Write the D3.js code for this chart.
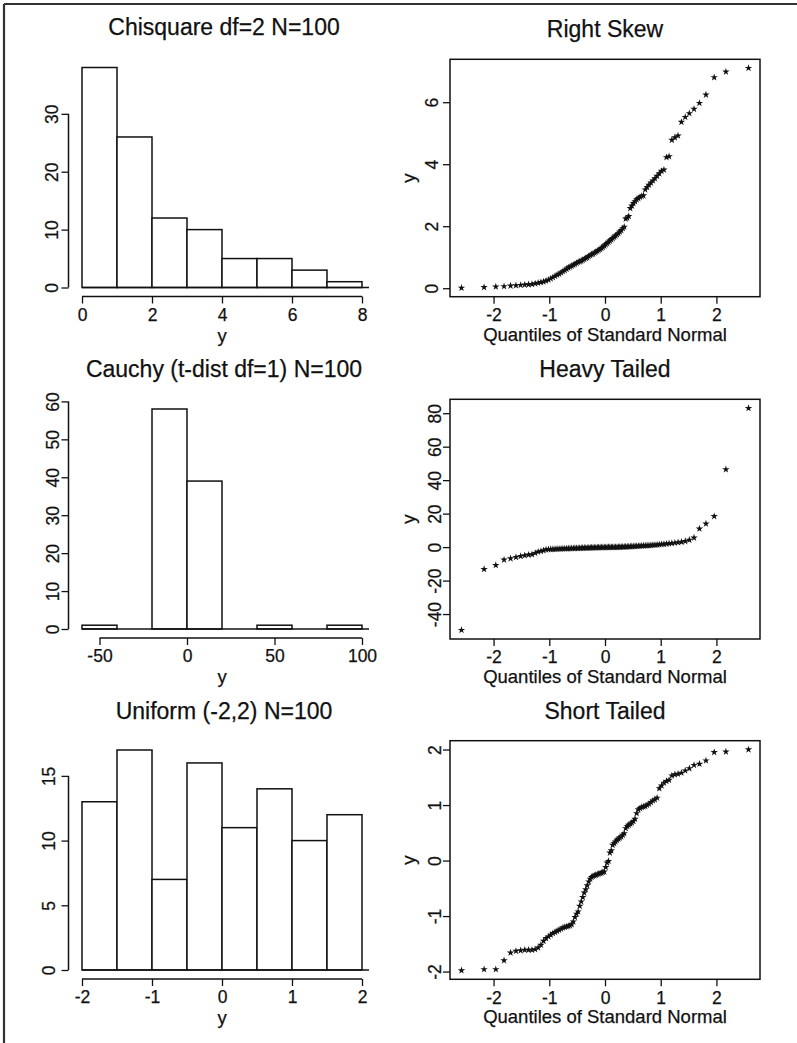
<!DOCTYPE html>
<html>
<head>
<meta charset="utf-8">
<script src="https://cdn.jsdelivr.net/npm/d3@7"></script>
<style>
  body { margin: 0; background: #fff; }
  svg { display: block; font-family: "Liberation Sans", Arial, Helvetica, sans-serif; }
  text { stroke: #111; stroke-width: 0.25; }
</style>
</head>
<body>
<script>
// quantiles of the standard normal for N=100 (x of every qq plot)
var normQuantiles = [-2.576,-2.170,-1.960,-1.812,-1.695,-1.598,-1.514,-1.440,-1.372,-1.311,-1.254,-1.200,-1.150,-1.103,-1.058,-1.015,-0.974,-0.935,-0.896,-0.860,-0.824,-0.789,-0.755,-0.722,-0.690,-0.659,-0.628,-0.598,-0.568,-0.539,-0.510,-0.482,-0.454,-0.426,-0.399,-0.372,-0.345,-0.319,-0.292,-0.266,-0.240,-0.215,-0.189,-0.164,-0.138,-0.113,-0.088,-0.063,-0.038,-0.013,
  0.013,0.038,0.063,0.088,0.113,0.138,0.164,0.189,0.215,0.240,0.266,0.292,0.319,0.345,0.372,0.399,0.426,0.454,0.482,0.510,0.539,0.568,0.598,0.628,0.659,0.690,0.722,0.755,0.789,0.824,0.860,0.896,0.935,0.974,1.015,1.058,1.103,1.150,1.200,1.254,1.311,1.372,1.440,1.514,1.598,1.695,1.812,1.960,2.170,2.576];

// sorted samples
var skewY = [0.01,0.03,0.05,0.06,0.08,0.09,0.10,0.11,0.12,0.13,0.15,0.17,0.19,0.21,0.24,0.27,0.31,0.35,0.39,0.43,
  0.46,0.50,0.54,0.58,0.62,0.66,0.69,0.72,0.75,0.78,0.81,0.84,0.86,0.88,0.91,0.94,0.97,0.99,1.03,1.06,
  1.09,1.11,1.14,1.17,1.20,1.23,1.26,1.29,1.33,1.37,1.41,1.45,1.49,1.53,1.57,1.61,1.65,1.69,1.73,1.77,
  1.82,1.87,1.93,1.98,2.24,2.27,2.32,2.58,2.66,2.74,2.80,2.86,2.90,2.94,2.97,2.99,3.18,3.26,3.33,3.40,
  3.47,3.54,3.62,3.70,3.78,3.82,4.22,4.25,4.78,4.86,4.92,5.36,5.52,5.64,5.78,5.97,6.24,6.80,6.98,7.10];

var heavyY = [-49.6,-13.2,-10.8,-7.6,-6.8,-6.0,-5.4,-5.0,-4.6,-4.4,-3.6,-2.8,-2.4,-2.0,-1.45,-1.35,-1.28,-1.22,-1.16,-1.10,
  -1.05,-1.00,-0.95,-0.91,-0.87,-0.83,-0.79,-0.75,-0.72,-0.69,-0.65,-0.62,-0.59,-0.56,-0.53,-0.50,-0.47,-0.44,-0.41,-0.38,
  -0.35,-0.33,-0.30,-0.28,-0.25,-0.23,-0.20,-0.18,-0.16,-0.14,-0.12,-0.10,-0.09,-0.07,-0.06,-0.05,-0.04,-0.03,-0.01,0.02,
  0.06,0.10,0.14,0.18,0.22,0.26,0.31,0.36,0.41,0.46,0.51,0.57,0.63,0.69,0.75,0.82,0.89,0.96,1.04,1.12,
  1.21,1.31,1.42,1.54,1.67,1.82,1.98,2.15,2.34,2.55,2.80,3.05,3.50,4.30,5.60,11.0,14.0,18.4,46.4,83.0];

var shortY = [-1.98,-1.96,-1.96,-1.80,-1.66,-1.63,-1.62,-1.61,-1.61,-1.61,-1.60,-1.57,-1.52,-1.45,-1.40,-1.37,-1.34,-1.31,-1.29,-1.27,
  -1.25,-1.23,-1.21,-1.20,-1.19,-1.18,-1.17,-1.15,-1.10,-1.02,-0.96,-0.92,-0.82,-0.74,-0.66,-0.58,-0.52,-0.45,-0.38,-0.33,
  -0.30,-0.28,-0.27,-0.26,-0.25,-0.24,-0.23,-0.22,-0.21,-0.20,-0.12,-0.04,-0.01,0.14,0.18,0.28,0.31,0.34,0.37,0.39,
  0.41,0.43,0.46,0.49,0.58,0.62,0.64,0.66,0.68,0.71,0.75,0.85,0.92,0.94,0.96,0.97,0.98,1.00,1.02,1.05,
  1.08,1.10,1.13,1.30,1.35,1.40,1.43,1.45,1.53,1.55,1.56,1.58,1.62,1.66,1.72,1.74,1.80,1.95,1.96,2.00];

// histogram bins and counts
var chisqEdges = [0,1,2,3,4,5,6,7,8];
var chisqCounts = [38,26,12,10,5,5,3,1];
var cauchyEdges = [-60,-40,-20,0,20,40,60,80,100];
var cauchyCounts = [1,0,58,39,0,1,0,1];
var unifEdges = [-2,-1.5,-1,-0.5,0,0.5,1,1.5,2];
var unifCounts = [13,17,7,16,11,14,10,12];

// tick values
var chisqXTicks = [0,2,4,6,8], chisqYTicks = [0,10,20,30];
var cauchyXTicks = [-50,0,50,100], cauchyYTicks = [0,10,20,30,40,50,60];
var unifXTicks = [-2,-1,0,1,2], unifYTicks = [0,5,10,15];
var qqXTicks = [-2,-1,0,1,2];
var skewYTicks = [0,2,4,6];
var heavyYTicks = [-40,-20,0,20,40,60,80];
var shortYTicks = [-2,-1,0,1,2];

var width = 797, height = 1043;
var tickFont = 17.5, labFont = 18.5, titleFont = 23;

var svg = d3.select("body").append("svg")
  .attr("width", width)
  .attr("height", height);

svg.append("rect").attr("width", width).attr("height", height).attr("fill", "#fff");

// frame of the figure (only top and left edges are visible)
svg.append("line").attr("x1", 4).attr("x2", width).attr("y1", 4).attr("y2", 4)
  .attr("stroke", "#333").attr("stroke-width", 2.2);
svg.append("line").attr("x1", 4).attr("x2", 4).attr("y1", 4).attr("y2", height)
  .attr("stroke", "#333").attr("stroke-width", 2.2);

function fmt(d) { return String(d); }

// style tick texts of a bottom axis
function styleBottom(ax) {
  ax.attr("font-size", null).attr("font-family", null);
  ax.select(".domain").remove();
  ax.selectAll(".tick line").attr("stroke", "#111").attr("stroke-width", 1.3);
  ax.selectAll(".tick text")
    .attr("y", 24.3).attr("dy", 0)
    .attr("fill", "#111")
    .style("font-size", tickFont + "px");
}

// style tick texts of a left axis, rotated like S-Plus
function styleLeft(ax, gap) {
  ax.attr("font-size", null).attr("font-family", null);
  ax.select(".domain").remove();
  ax.selectAll(".tick line").attr("stroke", "#111").attr("stroke-width", 1.3);
  ax.selectAll(".tick text")
    .attr("x", 0).attr("y", 0).attr("dy", 0)
    .attr("text-anchor", "middle")
    .attr("transform", `translate(${-gap},0)rotate(-90)`)
    .attr("fill", "#111")
    .style("font-size", tickFont + "px");
}

function drawHist(edges, counts, xTicks, yTicks, cfg) {
  var g = svg.append("g");
  var x = d3.scaleLinear()
    .domain([edges[0], edges[edges.length - 1]])
    .range([82, 362]);
  var y = d3.scaleLinear()
    .domain([0, d3.max(counts)])
    .range([cfg.y0, cfg.y0 - 220]);

  g.selectAll("rect.bar")
    .data(counts)
    .join("rect")
    .attr("class", "bar")
    .attr("x", (d, i) => x(edges[i]))
    .attr("y", d => y(d))
    .attr("width", (d, i) => x(edges[i + 1]) - x(edges[i]))
    .attr("height", d => y(0) - y(d))
    .attr("fill", "#fff")
    .attr("stroke", "#111")
    .attr("stroke-width", 1.5);

  // baseline under the bars
  g.append("line")
    .attr("x1", x(edges[0])).attr("x2", x.range()[1] + 7)
    .attr("y1", y(0)).attr("y2", y(0))
    .attr("stroke", "#111").attr("stroke-width", 1.5);

  var xa = g.append("g")
    .attr("transform", `translate(0,${cfg.y0 + 9})`)
    .call(d3.axisBottom(x).tickValues(xTicks).tickSize(7).tickSizeOuter(0).tickFormat(fmt));
  styleBottom(xa);
  xa.append("line")
    .attr("x1", x(xTicks[0])).attr("x2", x(xTicks[xTicks.length - 1]))
    .attr("stroke", "#111").attr("stroke-width", 1.5);

  var ya = g.append("g")
    .attr("transform", "translate(68.5,0)")
    .call(d3.axisLeft(y).tickValues(yTicks).tickSize(7).tickSizeOuter(0).tickFormat(fmt));
  styleLeft(ya, cfg.gap);
  ya.append("line")
    .attr("y1", y(yTicks[0])).attr("y2", y(yTicks[yTicks.length - 1]))
    .attr("stroke", "#111").attr("stroke-width", 1.5);

  g.append("text")
    .attr("x", 224).attr("y", cfg.titleY)
    .attr("text-anchor", "middle")
    .style("font-size", titleFont + "px")
    .attr("fill", "#111")
    .text(cfg.title);

  g.append("text")
    .attr("x", 222).attr("y", cfg.y0 + 9 + 45)
    .attr("text-anchor", "middle")
    .style("font-size", labFont + "px")
    .attr("fill", "#111")
    .text("y");
}

function drawQQ(values, yTicks, cfg) {
  var g = svg.append("g");
  var xe = d3.extent(normQuantiles), xp = (xe[1] - xe[0]) * 0.04;
  var ye = d3.extent(values), yp = (ye[1] - ye[0]) * 0.04;
  var x = d3.scaleLinear().domain([xe[0] - xp, xe[1] + xp]).range([450, 760]);
  var y = d3.scaleLinear().domain([ye[0] - yp, ye[1] + yp]).range([cfg.bottom, cfg.top]);

  g.append("rect")
    .attr("x", 450).attr("y", cfg.top)
    .attr("width", 310).attr("height", cfg.bottom - cfg.top)
    .attr("fill", "none").attr("stroke", "#111").attr("stroke-width", 1.5);

  var star = d3.symbol().type(d3.symbolStar).size(17);
  g.selectAll("path.pt")
    .data(values)
    .join("path")
    .attr("class", "pt")
    .attr("d", star)
    .attr("transform", (d, i) => `translate(${x(normQuantiles[i])},${y(d)})`)
    .attr("fill", "#111");

  var xa = g.append("g")
    .attr("transform", `translate(0,${cfg.bottom})`)
    .call(d3.axisBottom(x).tickValues(qqXTicks).tickSize(7).tickSizeOuter(0).tickFormat(fmt));
  styleBottom(xa);

  var ya = g.append("g")
    .attr("transform", "translate(450,0)")
    .call(d3.axisLeft(y).tickValues(yTicks).tickSize(7).tickSizeOuter(0).tickFormat(fmt));
  styleLeft(ya, cfg.gap);

  g.append("text")
    .attr("x", 605).attr("y", cfg.titleY)
    .attr("text-anchor", "middle")
    .style("font-size", titleFont + "px")
    .attr("fill", "#111")
    .text(cfg.title);

  g.append("text")
    .attr("x", 605).attr("y", cfg.bottom + 44)
    .attr("text-anchor", "middle")
    .style("font-size", labFont + "px")
    .attr("fill", "#111")
    .text("Quantiles of Standard Normal");

  g.append("text")
    .attr("text-anchor", "middle")
    .attr("transform", `translate(415,${(cfg.top + cfg.bottom) / 2})rotate(-90)`)
    .style("font-size", labFont + "px")
    .attr("fill", "#111")
    .text("y");
}

drawHist(chisqEdges, chisqCounts, chisqXTicks, chisqYTicks,
  { y0: 287.5, gap: 10.5, titleY: 35, title: "Chisquare df=2 N=100" });
drawHist(cauchyEdges, cauchyCounts, cauchyXTicks, cauchyYTicks,
  { y0: 629, gap: 10, titleY: 377, title: "Cauchy (t-dist df=1) N=100" });
drawHist(unifEdges, unifCounts, unifXTicks, unifYTicks,
  { y0: 970, gap: 14, titleY: 719, title: "Uniform (-2,2) N=100" });

drawQQ(skewY, skewYTicks, { top: 59.3, bottom: 296.7, gap: 12.5, titleY: 36.5, title: "Right Skew" });
drawQQ(heavyY, heavyYTicks, { top: 399.3, bottom: 639, gap: 9.5, titleY: 377, title: "Heavy Tailed" });
drawQQ(shortY, shortYTicks, { top: 740.7, bottom: 979.3, gap: 9.5, titleY: 719, title: "Short Tailed" });
</script>
</body>
</html>
